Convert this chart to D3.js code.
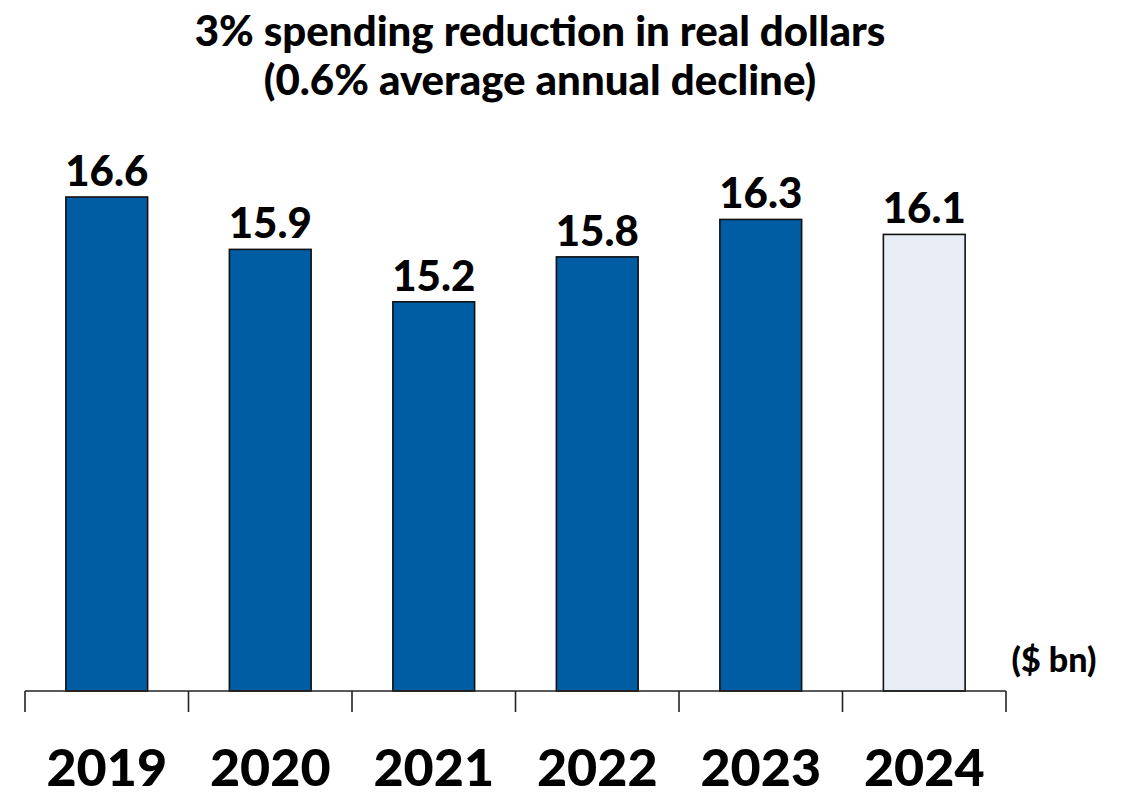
<!DOCTYPE html>
<html>
<head>
<meta charset="utf-8">
<script src="https://cdn.jsdelivr.net/npm/d3@7"></script>
<style>
  body { margin: 0; background: #fff; }
  text { font-family: Lato, "Open Sans", sans-serif; font-weight: 900; fill: #000; }
</style>
</head>
<body>
<script>
// chart data
const years = ["2019", "2020", "2021", "2022", "2023", "2024"];
const spending = [16.6, 15.9, 15.2, 15.8, 16.3, 16.1];
const titleLines = ["3% spending reduction in real dollars", "(0.6% average annual decline)"];
const unitLabel = "($ bn)";

const width = 1136, height = 799;
const baseY = 691;

const svg = d3.select("body").append("svg")
    .attr("width", width)
    .attr("height", height);

const x = d3.scaleBand()
    .domain(years)
    .range([25, 1006])
    .paddingInner(0.5)
    .paddingOuter(0.25);

// step boundaries for the tick marks
const step = x.step();
const x0 = 25;

const y = d3.scaleLinear()
    .domain([10, 16.6])
    .range([baseY, 197]);

// title
svg.selectAll("text.title")
    .data(titleLines)
    .enter().append("text")
    .attr("class", "title")
    .attr("x", 540)
    .attr("y", (d, i) => 46 + i * 49)
    .attr("text-anchor", "middle")
    .style("font-size", "42px")
    .text(d => d);

// bars
svg.selectAll("rect.bar")
    .data(spending)
    .enter().append("rect")
    .attr("class", "bar")
    .attr("x", (d, i) => x(years[i]))
    .attr("y", d => y(d))
    .attr("width", x.bandwidth())
    .attr("height", d => baseY - y(d))
    .attr("fill", (d, i) => i === years.length - 1 ? "#e9edf6" : "#005da4")
    .attr("stroke", "#111")
    .attr("stroke-width", 1.6);

// value labels
svg.selectAll("text.value")
    .data(spending)
    .enter().append("text")
    .attr("class", "value")
    .attr("x", (d, i) => x(years[i]) + x.bandwidth() / 2)
    .attr("y", d => y(d) - 11)
    .attr("text-anchor", "middle")
    .style("font-size", "42px")
    .text(d => d.toFixed(1));

// axis line + tick marks on band edges
const axis = svg.append("g").attr("stroke", "#222").attr("stroke-width", 1.6);
axis.append("line")
    .attr("x1", x0).attr("x2", x0 + step * years.length)
    .attr("y1", baseY).attr("y2", baseY);
axis.selectAll("line.tick")
    .data(d3.range(years.length + 1))
    .enter().append("line")
    .attr("class", "tick")
    .attr("x1", i => x0 + i * step).attr("x2", i => x0 + i * step)
    .attr("y1", baseY).attr("y2", baseY + 21);

// year labels
svg.selectAll("text.year")
    .data(years)
    .enter().append("text")
    .attr("class", "year")
    .attr("x", d => x(d) + x.bandwidth() / 2)
    .attr("y", 786)
    .attr("text-anchor", "middle")
    .style("font-size", "52px")
    .text(d => d);

svg.append("text")
    .attr("x", 1054)
    .attr("y", 672)
    .attr("text-anchor", "middle")
    .style("font-size", "34px")
    .text(unitLabel);
</script>
</body>
</html>
